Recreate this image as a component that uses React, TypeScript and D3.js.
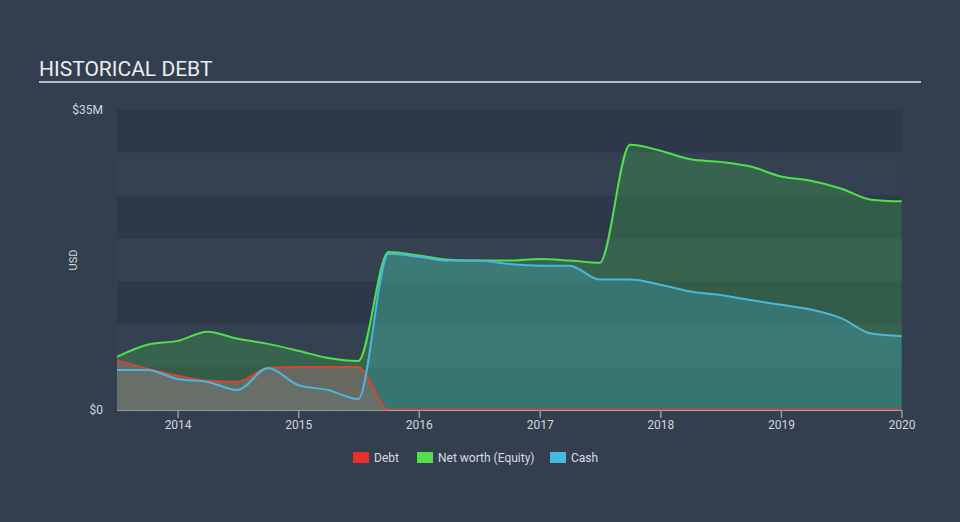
import React from "react";
import * as d3 from "d3";

const dates = [
  "2013-06-30", "2013-09-30", "2013-12-31",
  "2014-03-31", "2014-06-30", "2014-09-30", "2014-12-31",
  "2015-03-31", "2015-06-30", "2015-09-30", "2015-12-31",
  "2016-03-31", "2016-06-30", "2016-09-30", "2016-12-31",
  "2017-03-31", "2017-06-30", "2017-09-30", "2017-12-31",
  "2018-03-31", "2018-06-30", "2018-09-30", "2018-12-31",
  "2019-03-31", "2019-06-30", "2019-09-30", "2019-12-31",
];

const debt = [
  5.8, 4.8, 4.0, 3.4, 3.3, 4.9, 5.0, 5.0, 5.0, 0, 0, 0, 0, 0, 0, 0, 0, 0, 0, 0, 0, 0, 0, 0, 0, 0, 0,
];

const netWorth = [
  6.2, 7.6, 8.05, 9.1, 8.3, 7.7, 6.9, 6.05, 5.7, 18.4, 18.0, 17.5, 17.4, 17.4, 17.6, 17.4, 17.15,
  30.9, 30.2, 29.2, 28.9, 28.35, 27.2, 26.7, 25.8, 24.5, 24.3,
];

const cash = [
  4.67, 4.67, 3.6, 3.27, 2.33, 4.9, 2.9, 2.33, 1.28, 18.2, 17.85, 17.4, 17.4, 17.0, 16.8, 16.8, 15.2,
  15.2, 14.6, 13.8, 13.4, 12.8, 12.25, 11.7, 10.7, 8.9, 8.6,
];

const yTickLabels = ["$0", "$35M"];
const yTickValues = [0, 35];
const xTickYears = [2014, 2015, 2016, 2017, 2018, 2019, 2020];

const legendItems = [
  { label: "Debt", color: "#e8302a" },
  { label: "Net worth (Equity)", color: "#4fe04a" },
  { label: "Cash", color: "#48b8dc" },
];

export default function App() {
  const W = 960;
  const H = 522;
  const left = 117;
  const right = 902;
  const top = 109.5;
  const bottom = 410;

  const parse = d3.timeParse("%Y-%m-%d");
  const xs = dates.map((d) => parse(d) as Date);

  const x = d3
    .scaleTime()
    .domain([parse("2013-06-30") as Date, parse("2020-01-01") as Date])
    .range([left, right]);
  const y = d3.scaleLinear().domain([0, 35]).range([bottom, top]);

  const mk = (vals: number[]) => vals.map((v, i) => ({ d: xs[i], v }));
  const line = d3
    .line<{ d: Date; v: number }>()
    .x((p) => x(p.d))
    .y((p) => y(p.v))
    .curve(d3.curveMonotoneX);
  const area = d3
    .area<{ d: Date; v: number }>()
    .x((p) => x(p.d))
    .y0(y(0))
    .y1((p) => y(p.v))
    .curve(d3.curveMonotoneX);

  const bands = d3.range(0, 35, 5);
  const font = "Roboto, 'Open Sans', Arial, sans-serif";

  return (
    <svg
      width={W}
      height={H}
      style={{ position: "absolute", left: 0, top: 0, display: "block" }}
      fontFamily={font}
    >
      <defs>
        <pattern id="hatch" patternUnits="userSpaceOnUse" width="3.5" height="3.5" patternTransform="rotate(45)">
          <rect width="3.5" height="3.5" fill="#677270" />
          <line x1="0" y1="0" x2="0" y2="3.5" stroke="#b4563e" strokeWidth="1.2" />
        </pattern>
        <clipPath id="plotClip">
          <rect x={left} y={top - 5} width={right - left} height={bottom - top + 6} />
        </clipPath>
      </defs>
      <rect x={0} y={0} width={W} height={H} fill="#333f4f" />

      <text x={39} y={76} fill="#ebedef" fontSize={21} fontFamily={font}>
        HISTORICAL DEBT
      </text>
      <rect x={39} y={81} width={882} height={2} fill="#b8bcc3" />

      {bands.map((b, i) => (
        <rect
          key={b}
          x={left}
          y={y(b + 5)}
          width={right - left}
          height={y(b) - y(b + 5)}
          fill={i % 2 === 0 ? "#2d394a" : "#334151"}
        />
      ))}

      <g clipPath="url(#plotClip)">
        <path d={area(mk(netWorth)) || ""} fill="#4fe04a" opacity={0.22} />
        <path d={area(mk(cash)) || ""} fill="#48b8dc" opacity={0.27} />
        <path d={area(mk(debt)) || ""} fill="url(#hatch)" opacity={0.8} />
        <path d={line(mk(debt)) || ""} fill="none" stroke="#d9452e" strokeWidth={2} />
        <path d={line(mk(netWorth)) || ""} fill="none" stroke="#4fe04a" strokeWidth={2} />
        <path d={line(mk(cash)) || ""} fill="none" stroke="#48b8dc" strokeWidth={2} />
      </g>

      <line x1={left} x2={right} y1={bottom + 0.5} y2={bottom + 0.5} stroke="#a9b0b8" strokeWidth={1} opacity={0.8} />

      {xTickYears.map((yr) => {
        const xx = x(new Date(yr, 0, 1));
        return (
          <g key={yr}>
            <line x1={xx} x2={xx} y1={bottom} y2={bottom + 8} stroke="#8d99a6" strokeWidth={1.5} />
            <text x={xx} y={429} textAnchor="middle" fill="#d2d6da" fontSize={12}>
              {yr}
            </text>
          </g>
        );
      })}

      {yTickValues.map((v, i) => (
        <text key={v} x={103} y={y(v) + 4} textAnchor="end" fill="#d2d6da" fontSize={12}>
          {yTickLabels[i]}
        </text>
      ))}

      <text
        x={0}
        y={0}
        transform={`translate(77,260) rotate(-90)`}
        textAnchor="middle"
        fill="#d2d6da"
        fontSize={11}
      >
        USD
      </text>

      {(() => {
        let cx = 353;
        const widths = [64, 133, 50];
        return legendItems.map((it, i) => {
          const g = (
            <g key={it.label}>
              <rect x={cx} y={452} width={16} height={11} fill={it.color} />
              <text x={cx + 21} y={461.5} fill="#d8dce0" fontSize={12}>
                {it.label}
              </text>
            </g>
          );
          cx += widths[i];
          return g;
        });
      })()}
    </svg>
  );
}
